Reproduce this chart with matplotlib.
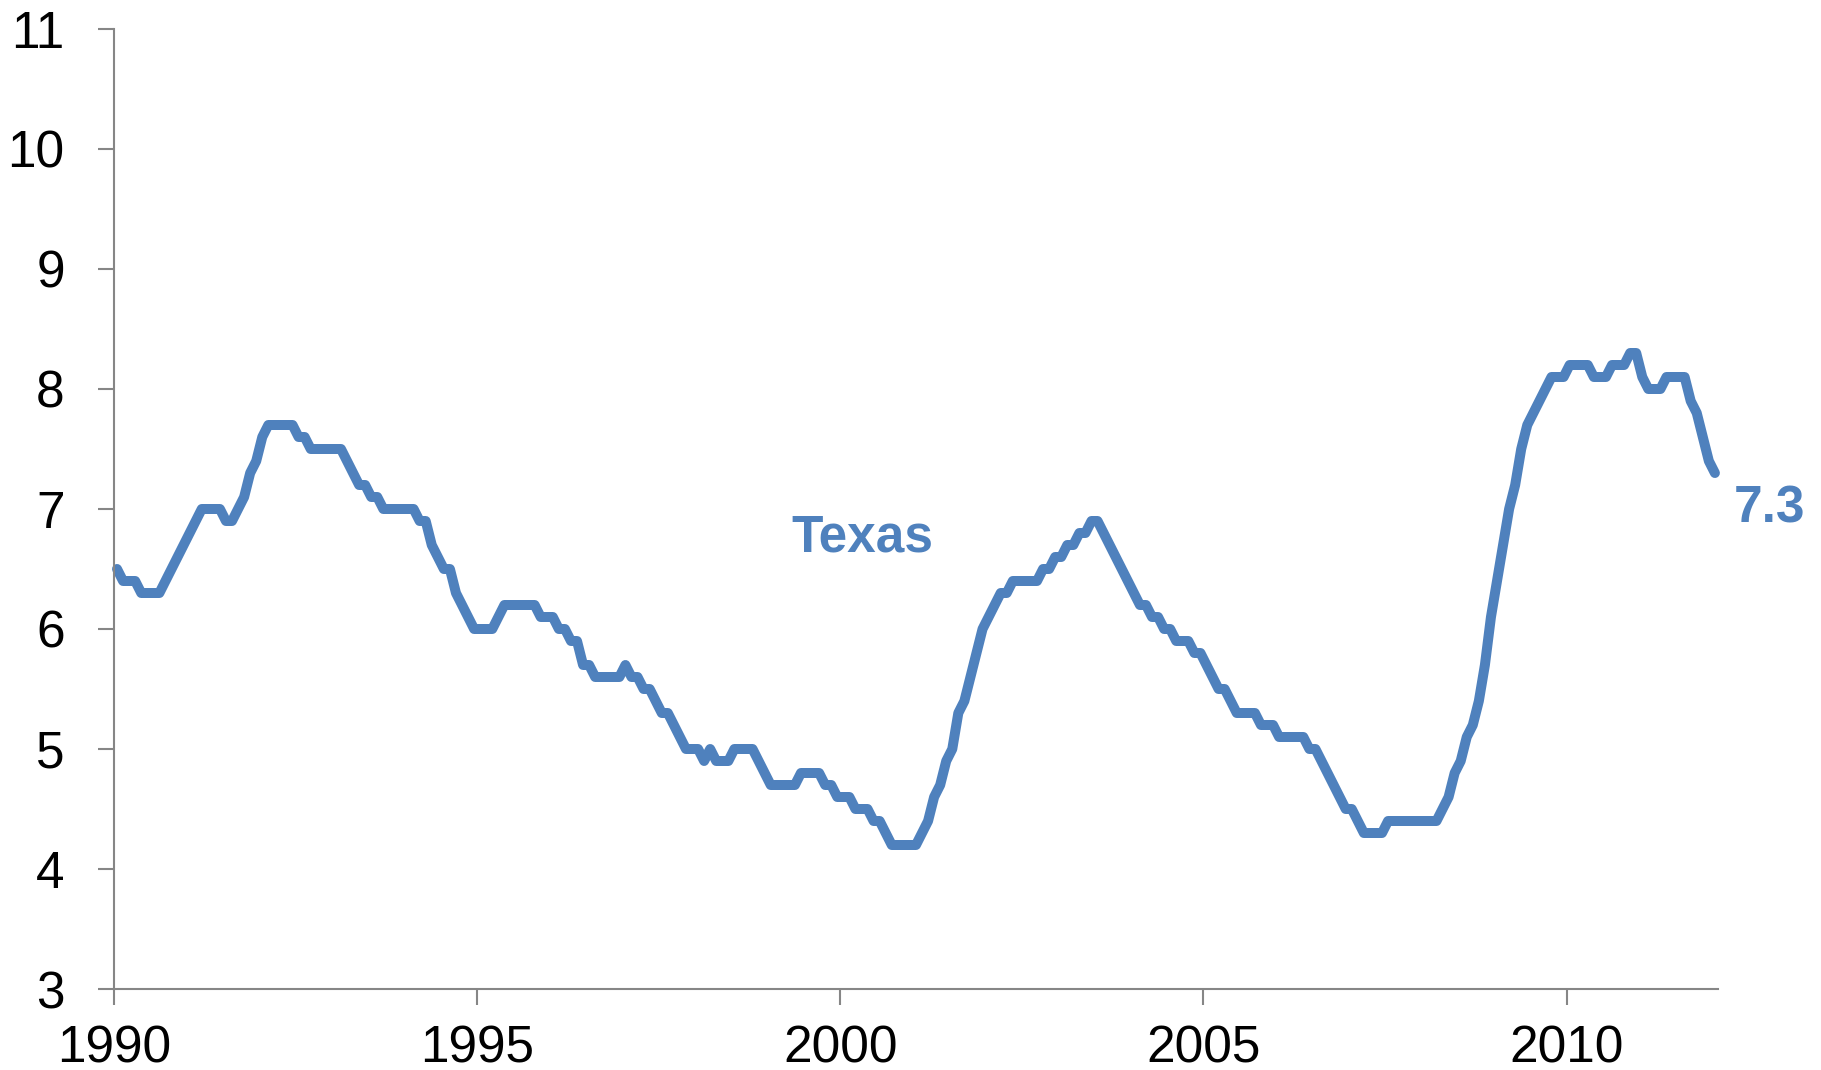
import numpy as np
from matplotlib import pyplot as plt


# Texas unemployment rate (%), monthly, Jan 1990 .. Jan 2012
start_year = 1990
unemp = [
    6.5, 6.4, 6.4, 6.4, 6.3, 6.3, 6.3, 6.3, 6.4, 6.5,
    6.6, 6.7, 6.8, 6.9, 7.0, 7.0, 7.0, 7.0, 6.9, 6.9,
    7.0, 7.1, 7.3, 7.4, 7.6, 7.7, 7.7, 7.7, 7.7, 7.7,
    7.6, 7.6, 7.5, 7.5, 7.5, 7.5, 7.5, 7.5, 7.4, 7.3,
    7.2, 7.2, 7.1, 7.1, 7.0, 7.0, 7.0, 7.0, 7.0, 7.0,
    6.9, 6.9, 6.7, 6.6, 6.5, 6.5, 6.3, 6.2, 6.1, 6.0,
    6.0, 6.0, 6.0, 6.1, 6.2, 6.2, 6.2, 6.2, 6.2, 6.2,
    6.1, 6.1, 6.1, 6.0, 6.0, 5.9, 5.9, 5.7, 5.7, 5.6,
    5.6, 5.6, 5.6, 5.6, 5.7, 5.6, 5.6, 5.5, 5.5, 5.4,
    5.3, 5.3, 5.2, 5.1, 5.0, 5.0, 5.0, 4.9, 5.0, 4.9,
    4.9, 4.9, 5.0, 5.0, 5.0, 5.0, 4.9, 4.8, 4.7, 4.7,
    4.7, 4.7, 4.7, 4.8, 4.8, 4.8, 4.8, 4.7, 4.7, 4.6,
    4.6, 4.6, 4.5, 4.5, 4.5, 4.4, 4.4, 4.3, 4.2, 4.2,
    4.2, 4.2, 4.2, 4.3, 4.4, 4.6, 4.7, 4.9, 5.0, 5.3,
    5.4, 5.6, 5.8, 6.0, 6.1, 6.2, 6.3, 6.3, 6.4, 6.4,
    6.4, 6.4, 6.4, 6.5, 6.5, 6.6, 6.6, 6.7, 6.7, 6.8,
    6.8, 6.9, 6.9, 6.8, 6.7, 6.6, 6.5, 6.4, 6.3, 6.2,
    6.2, 6.1, 6.1, 6.0, 6.0, 5.9, 5.9, 5.9, 5.8, 5.8,
    5.7, 5.6, 5.5, 5.5, 5.4, 5.3, 5.3, 5.3, 5.3, 5.2,
    5.2, 5.2, 5.1, 5.1, 5.1, 5.1, 5.1, 5.0, 5.0, 4.9,
    4.8, 4.7, 4.6, 4.5, 4.5, 4.4, 4.3, 4.3, 4.3, 4.3,
    4.4, 4.4, 4.4, 4.4, 4.4, 4.4, 4.4, 4.4, 4.4, 4.5,
    4.6, 4.8, 4.9, 5.1, 5.2, 5.4, 5.7, 6.1, 6.4, 6.7,
    7.0, 7.2, 7.5, 7.7, 7.8, 7.9, 8.0, 8.1, 8.1, 8.1,
    8.2, 8.2, 8.2, 8.2, 8.1, 8.1, 8.1, 8.2, 8.2, 8.2,
    8.3, 8.3, 8.1, 8.0, 8.0, 8.0, 8.1, 8.1, 8.1, 8.1,
    7.9, 7.8, 7.6, 7.4, 7.3,
]
series_name = "Texas"
x_tick_years = [1990, 1995, 2000, 2005, 2010]
y_ticks = [3, 4, 5, 6, 7, 8, 9, 10, 11]

LINE_COLOR = "#4F81BD"
AXIS_COLOR = "#868686"
FONT_SIZE = 37

plt.rcParams["font.family"] = ["Liberation Sans", "DejaVu Sans"]

fig = plt.figure(figsize=(18.21, 10.70), dpi=100)
ax = fig.add_axes([0.0626, 0.0757, 0.8808, 0.8972])

# one point per month, plotted mid-month
months = start_year + (np.arange(len(unemp)) + 0.5) / 12
ax.plot(months, unemp, color=LINE_COLOR, lw=7.2,
        solid_joinstyle="round", solid_capstyle="round", clip_on=False)

ax.set_xlim(start_year, 2012 + 1 / 12)
ax.set_ylim(y_ticks[0], y_ticks[-1])
ax.set_xticks(x_tick_years)
ax.set_xticklabels([str(y) for y in x_tick_years])
ax.set_yticks(y_ticks)
ax.set_yticklabels([str(v) for v in y_ticks])

for side in ["top", "right"]:
    ax.spines[side].set_visible(False)
for side in ["left", "bottom"]:
    ax.spines[side].set_color(AXIS_COLOR)
    ax.spines[side].set_linewidth(1.5)

ax.tick_params(axis="both", direction="out", length=11.5, width=1.5,
               color=AXIS_COLOR, labelsize=FONT_SIZE, labelcolor="black")
ax.tick_params(axis="y", pad=24)
ax.tick_params(axis="x", pad=14)

# series name inside the plot
ax.text(2000.30, 6.644, series_name, color=LINE_COLOR, fontsize=FONT_SIZE,
        fontweight="bold", ha="center", va="baseline")

# latest value next to the line end
ax.annotate(f"{unemp[-1]:.1f}", xy=(months[-1], unemp[-1]), xytext=(39, -36),
            textcoords="offset points", ha="center", va="baseline",
            fontsize=FONT_SIZE, fontweight="bold", color=LINE_COLOR,
            annotation_clip=False)

fig.savefig("out.png", dpi=100)
